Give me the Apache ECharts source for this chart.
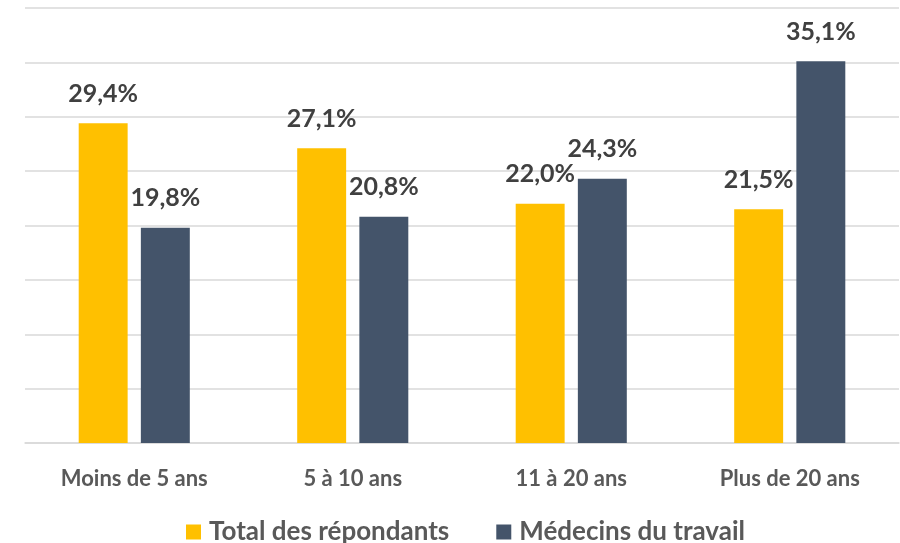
<!DOCTYPE html>
<html>
<head>
<meta charset="utf-8">
<script src="https://cdn.jsdelivr.net/npm/echarts@6/dist/echarts.min.js"></script>
<style>html,body{margin:0;padding:0;background:#fff}#c{width:900px;height:543px}</style>
</head>
<body>
<div id="c"></div>
<script>
var categories = ['Moins de 5 ans', '5 à 10 ans', '11 à 20 ans', 'Plus de 20 ans'];
var seriesNames = ['Total des répondants', 'Médecins du travail'];
var totalValues = [29.4, 27.1, 22.0, 21.5];
var medecinsValues = [19.8, 20.8, 24.3, 35.1];
var yMin = 0, yMax = 40, yInterval = 5;

var FONT = 'Lato, "Open Sans", sans-serif';
function fmt(p) { return p.value.toFixed(1).replace('.', ',') + '%'; }
var labelStyle = {
  show: true, position: 'top', distance: 17,
  formatter: fmt, fontFamily: FONT, fontWeight: 'bold', fontSize: 25, color: '#404040'
};

var chart = echarts.init(document.getElementById('c'), null, {renderer: 'canvas'});
chart.setOption({
  animation: false,
  backgroundColor: '#ffffff',
  grid: { left: 25, right: 1, top: 8, bottom: 100, containLabel: false },
  legend: {
    left: 186, top: 519, padding: 0,
    itemWidth: 15, itemHeight: 15, itemGap: 47,
    icon: 'rect',
    textStyle: { fontFamily: FONT, fontWeight: 'bold', fontSize: 26, color: '#595959', padding: [0, 0, 0, 3] },
    data: seriesNames
  },
  xAxis: {
    type: 'category', data: categories,
    axisLine: { lineStyle: { color: '#d9d9d9', width: 1.5 } },
    axisTick: { show: false },
    axisLabel: { margin: 25, fontFamily: FONT, fontWeight: 'bold', fontSize: 22, color: '#595959' }
  },
  yAxis: {
    type: 'value', min: yMin, max: yMax, interval: yInterval,
    axisLabel: { show: false }, axisLine: { show: false }, axisTick: { show: false },
    splitLine: { lineStyle: { color: '#d9d9d9', width: 1.5 } }
  },
  series: [
    { name: seriesNames[0], type: 'bar', data: totalValues, barWidth: '22.4%', barGap: '27%',
      itemStyle: { color: '#FFC000' }, label: labelStyle },
    { name: seriesNames[1], type: 'bar', data: medecinsValues, barWidth: '22.4%', barGap: '27%',
      itemStyle: { color: '#44546A' }, label: labelStyle }
  ]
});
</script>
</body>
</html>
